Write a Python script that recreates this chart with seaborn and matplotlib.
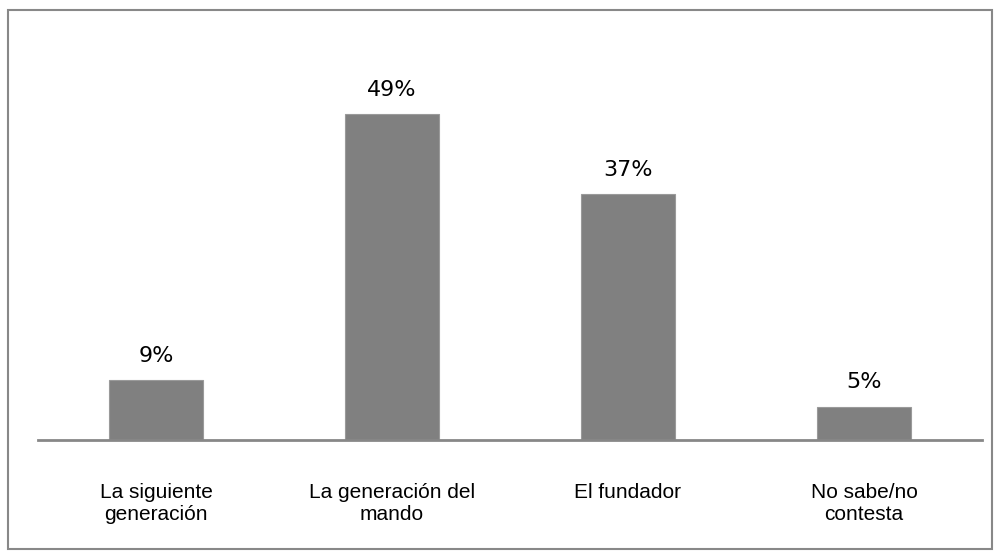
import matplotlib
matplotlib.use("Agg")
import matplotlib.pyplot as plt
import pandas as pd
import seaborn as sns
from matplotlib.patches import Rectangle

categories = ["La siguiente\ngeneración", "La generación del\nmando", "El fundador", "No sabe/no\ncontesta"]
values = [9, 49, 37, 5]
value_labels = ["9%", "49%", "37%", "5%"]

df = pd.DataFrame({"categoria": categories, "valor": values})

sns.set_theme(style="white")
W, H = 1000, 559
fig = plt.figure(figsize=(W / 100, H / 100), dpi=100)
ax = fig.add_axes([38 / W, 1 - 440 / H, (982 - 38) / W, (440 - 41) / H])

sns.barplot(data=df, x="categoria", y="valor", color="#808080", width=0.4,
            saturation=1, edgecolor="#9a9a9a", linewidth=0.8, ax=ax)

ax.set_xlim(-0.5, 3.5)
ax.set_ylim(0, 60)
for s in ["top", "right", "left"]:
    ax.spines[s].set_visible(False)
ax.spines["bottom"].set_color("#878787")
ax.spines["bottom"].set_linewidth(2)
ax.set_yticks([])
ax.set_xlabel("")
ax.set_ylabel("")
ax.tick_params(axis="x", length=0, pad=31)
ax.set_xticks(range(len(categories)))
ax.set_xticklabels(categories, fontsize=15, family="Liberation Sans",
                   color="black", linespacing=1.2)

for i, (v, lab) in enumerate(zip(values, value_labels)):
    ax.annotate(lab, (i, v), xytext=(0, 17.5), textcoords="offset points",
                ha="center", va="center", fontsize=16, family="DejaVu Sans",
                color="black")

fig.patches.append(Rectangle((8 / W, 1 - 549 / H), (992 - 8) / W, (549 - 10) / H,
                             transform=fig.transFigure, fill=False,
                             edgecolor="#888888", linewidth=1.5))

fig.savefig("out.png", dpi=100)
